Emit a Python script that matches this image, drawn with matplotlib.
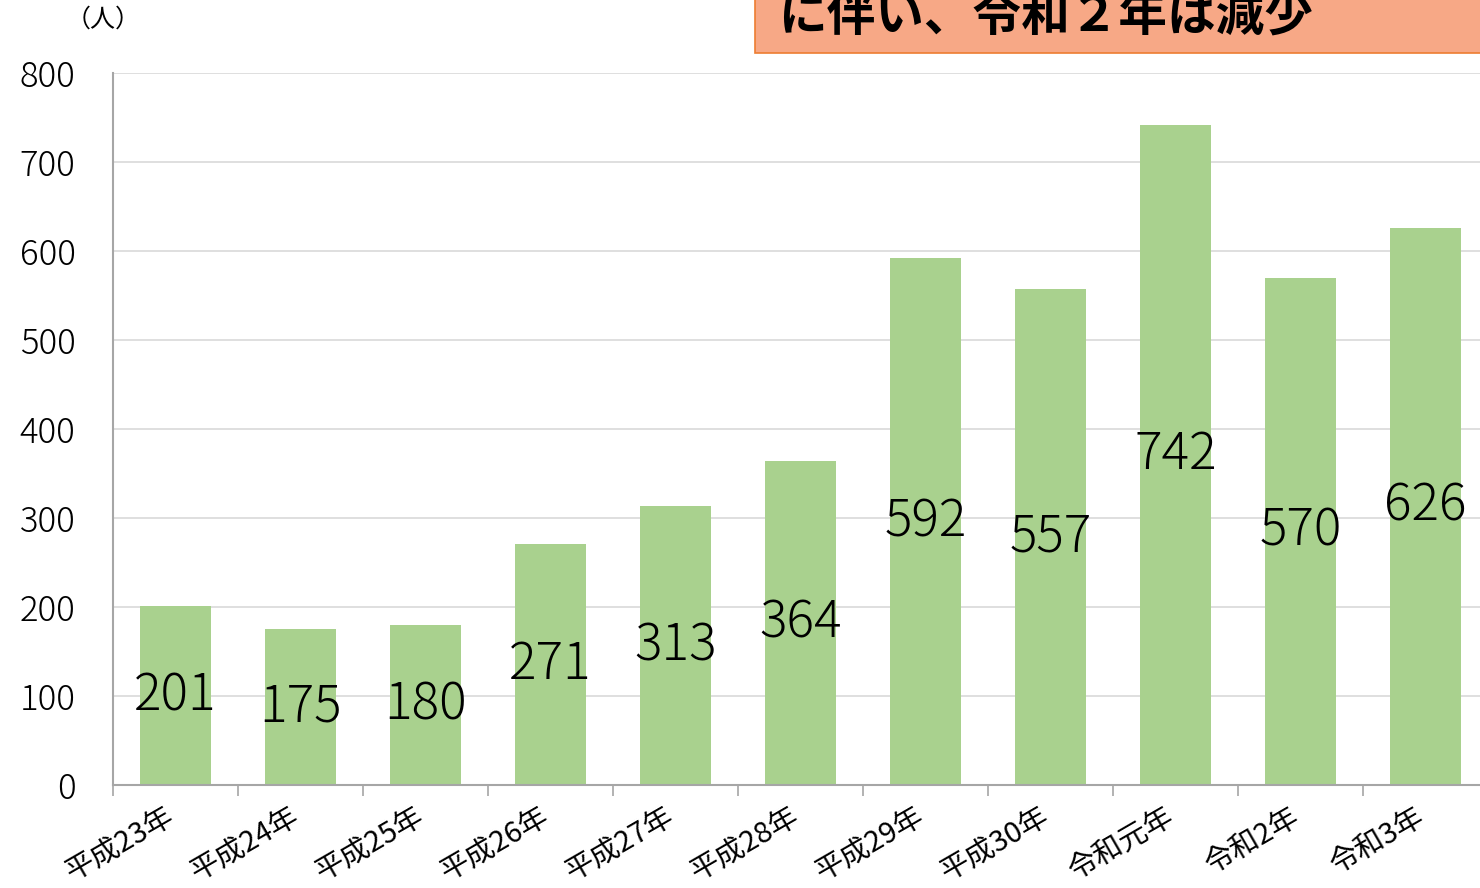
# 年別の人数（棒グラフ）
import matplotlib
matplotlib.use('Agg')
import matplotlib.pyplot as plt
import matplotlib.transforms as mtransforms
from matplotlib.patches import Rectangle

plt.rcParams['font.family'] = ['Noto Sans CJK JP', 'DejaVu Sans']

# data
years = ['平成23年', '平成24年', '平成25年', '平成26年', '平成27年', '平成28年',
         '平成29年', '平成30年', '令和元年', '令和2年', '令和3年']
counts = [201, 175, 180, 271, 313, 364, 592, 557, 742, 570, 626]
yticks = [0, 100, 200, 300, 400, 500, 600, 700, 800]
unit_label = '（人）'
banner_text = 'に伴い、令和２年は減少'

fig = plt.figure(figsize=(14.8, 8.88), dpi=100)
ax = fig.add_axes([113 / 1480, 1 - 785 / 888, 1375 / 1480, 712 / 888])

xpos = list(range(len(years)))
bars = ax.bar(xpos, counts, width=0.57, color='#A9D18E', zorder=2)

# value labels in the middle of each bar
for bar, v in zip(bars, counts):
    ax.text(bar.get_x() + bar.get_width() / 2, v / 2, str(v),
            ha='center', va='center', fontsize=37, fontweight='light',
            color='black', zorder=3)

ax.set_xlim(-0.5, len(years) - 0.5)
ax.set_ylim(0, 800)
ax.set_yticks(yticks)
ax.set_yticklabels([str(t) for t in yticks], fontsize=25, fontweight='light')
ax.tick_params(axis='y', length=0, pad=27)

ax.set_xticks(xpos)
ax.set_xticklabels(years, fontsize=21, rotation=30, ha='right',
                   rotation_mode='anchor')
ax.tick_params(axis='x', which='major', length=0, pad=19)
# nudge the rotated labels left/up so they end under the bar centre
shift = mtransforms.ScaledTranslation(-11 / 100, 9 / 100, fig.dpi_scale_trans)
for lbl in ax.get_xticklabels():
    lbl.set_transform(lbl.get_transform() + shift)
ax.set_xticks([x - 0.5 for x in xpos], minor=True)
ax.tick_params(axis='x', which='minor', length=8, width=1.2, color='#A6A6A6',
               direction='out')

ax.grid(axis='y', color='#D9D9D9', linewidth=1.2, zorder=0)
for side in ['top', 'right']:
    ax.spines[side].set_visible(False)
for side in ['left', 'bottom']:
    ax.spines[side].set_color('#A6A6A6')
    ax.spines[side].set_linewidth(1.5)
ax.spines['left'].set_zorder(4)
ax.spines['bottom'].set_zorder(4)

# unit label at the top left
fig.text(66 / 1480, 1 - 20 / 888, unit_label, fontsize=18, ha='left', va='center')

# banner box, cut off at the top right
box = Rectangle((755 / 1480, 1 - 53 / 888), 1, 60 / 888, transform=fig.transFigure,
                facecolor='#F7A886', edgecolor='#ED7D31', linewidth=1.2)
fig.patches.append(box)
fig.text(778 / 1480, 1 - 32 / 888, banner_text, fontsize=35, fontweight='bold',
         ha='left', va='baseline', color='black')

plt.savefig('out.png', dpi=100)
